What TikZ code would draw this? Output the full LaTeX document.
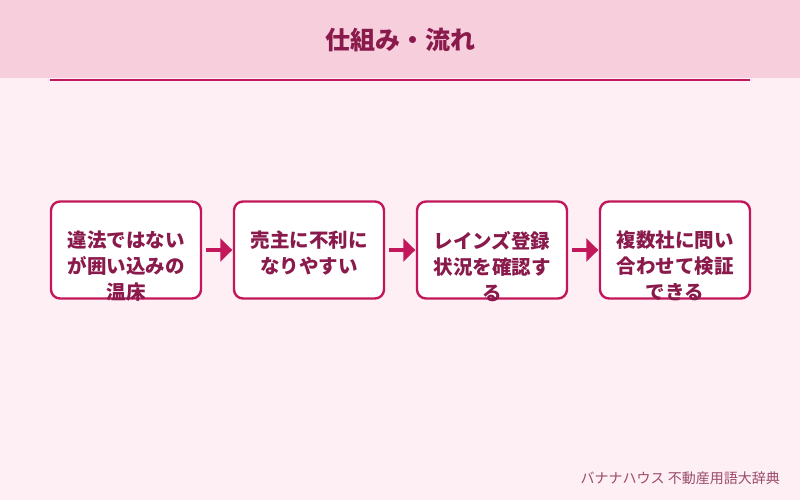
\documentclass[tikz,border=0pt]{standalone}
\usepackage{fontspec}
\setmainfont{Noto Sans CJK JP}
\usetikzlibrary{arrows.meta}
\definecolor{pagebg}{HTML}{FDEFF4}
\definecolor{bandbg}{HTML}{F7CEDC}
\definecolor{deepwine}{HTML}{8A1A4B}
\definecolor{rosered}{HTML}{C2185B}
\definecolor{footgray}{HTML}{9A4A6A}
\tikzset{stepbox/.style={draw=rosered,fill=white,line width=2.4pt,rounded corners=9pt,minimum width=150pt,minimum height=97pt,inner sep=0pt},steptext/.style={anchor=north,inner sep=0pt,align=center,text=deepwine,font=\fontsize{19.5}{26}\selectfont\bfseries},flow/.style={draw=rosered,line width=4.5pt,shorten <=4pt,shorten >=0.5pt,-{Triangle[length=12pt,width=23pt]}}}

\begin{document}
\begin{tikzpicture}[x=1pt,y=-1pt]
\path[use as bounding box,fill=pagebg] (0,0) rectangle (800,500);
\fill[bandbg] (0,0) rectangle (800,78);
\node[anchor=center,inner sep=0pt,text=deepwine,font=\fontsize{25}{30}\selectfont\bfseries] (title) at (400,40) {仕組み・流れ};
\draw[rosered,line width=2pt] (50,80.5) -- (750,80.5);
\node[stepbox] (s1) at (126,250) {};
\node[stepbox] (s2) at (309,250) {};
\node[stepbox] (s3) at (492,250) {};
\node[stepbox] (s4) at (675,250) {};
\draw[flow] (s1) -- (s2);
\draw[flow] (s2) -- (s3);
\draw[flow] (s3) -- (s4);
\node[steptext] (t1) at (126,231) {違法ではない\\が囲い込みの\\温床};
\node[steptext] (t2) at (309,231) {売主に不利に\\なりやすい};
\node[steptext] (t3) at (492,231) {レインズ登録\\状況を確認す\\る};
\node[steptext] (t4) at (675,231) {複数社に問い\\合わせて検証\\できる};
\node[anchor=east,inner sep=0pt,text=footgray,font=\fontsize{14}{17}\selectfont] (credit) at (780,478) {バナナハウス 不動産用語大辞典};
\end{tikzpicture}
\end{document}
